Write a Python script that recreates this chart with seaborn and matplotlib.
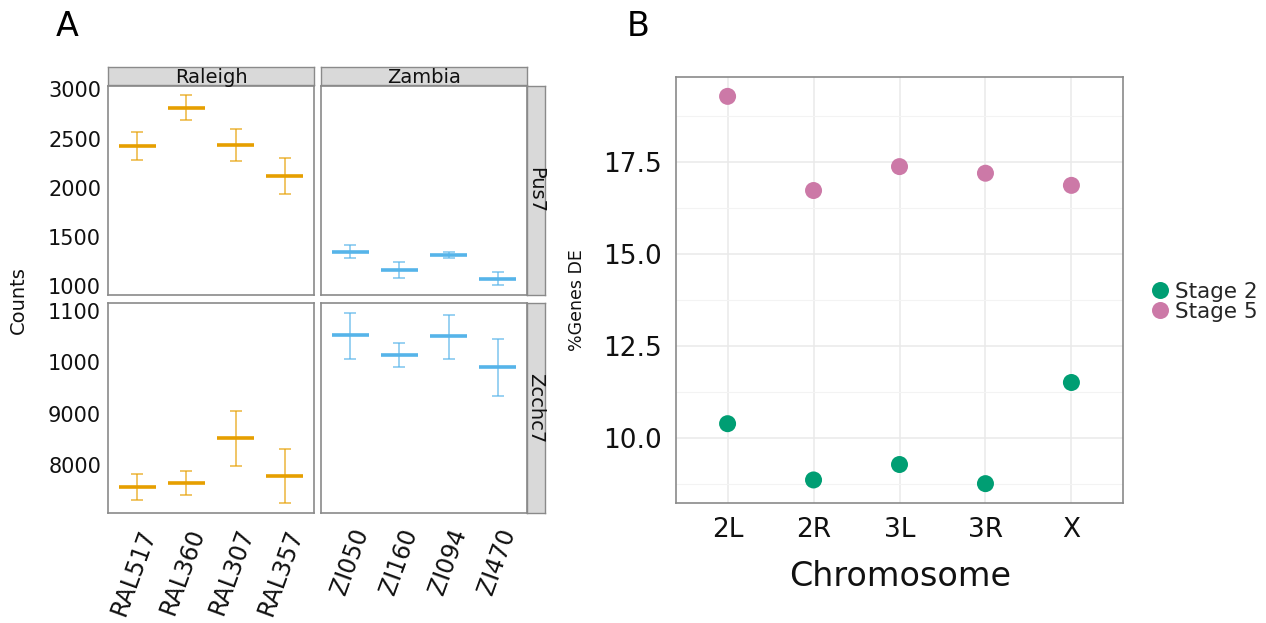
import numpy as np
import pandas as pd
import matplotlib
matplotlib.use("Agg")
import matplotlib.pyplot as plt
import seaborn as sns

# ---------------- data ----------------
raleigh_strains = ["RAL517", "RAL360", "RAL307", "RAL357"]
zambia_strains = ["ZI050", "ZI160", "ZI094", "ZI470"]

pus7_raleigh_mean = [2427, 2810, 2437, 2120]
pus7_raleigh_low = [2280, 2687, 2273, 1940]
pus7_raleigh_high = [2570, 2937, 2600, 2303]
pus7_zambia_mean = [1350, 1167, 1317, 1073]
pus7_zambia_low = [1287, 1087, 1290, 1007]
pus7_zambia_high = [1417, 1247, 1343, 1140]

zcchc7_raleigh_mean = [7580, 7658, 8528, 7787]
zcchc7_raleigh_low = [7323, 7433, 7994, 7265]
zcchc7_raleigh_high = [7832, 7884, 9058, 8323]
zcchc7_zambia_mean = [10530, 10135, 10503, 9903]
zcchc7_zambia_low = [10058, 9910, 10058, 9355]
zcchc7_zambia_high = [10961, 10368, 10909, 10451]

pus7_ticks = [1000, 1500, 2000, 2500, 3000]
pus7_ticklabels = ["1000", "1500", "2000", "2500", "3000"]
zcchc7_ticks = [8000, 9000, 10000, 11000]
zcchc7_ticklabels = ["8000", "9000", "1000", "1100"]

chromosomes = ["2L", "2R", "3L", "3R", "X"]
stage2_pct = [10.39, 8.86, 9.28, 8.76, 11.51]
stage5_pct = [19.29, 16.73, 17.38, 17.20, 16.87]
b_ticks = [10.0, 12.5, 15.0, 17.5]
b_ticklabels = ["10.0", "12.5", "15.0", "17.5"]

# ---------------- style ----------------
sns.set_style("white")
plt.rcParams["font.family"] = ["DejaVu Sans"]

W, H = 1266, 623
fig = plt.figure(figsize=(W / 100, H / 100), dpi=100)


def box(x0, y0, x1, y1):
    return [x0 / W, 1 - y1 / H, (x1 - x0) / W, (y1 - y0) / H]


ORANGE = "#E69F00"
BLUE = "#56B4E9"
FRAME = "#8a8a8a"
STRIP = "#D9D9D9"
TXT = "#111111"

facets = {
    (0, 0): (raleigh_strains, pus7_raleigh_mean, pus7_raleigh_low, pus7_raleigh_high, ORANGE),
    (0, 1): (zambia_strains, pus7_zambia_mean, pus7_zambia_low, pus7_zambia_high, BLUE),
    (1, 0): (raleigh_strains, zcchc7_raleigh_mean, zcchc7_raleigh_low, zcchc7_raleigh_high, ORANGE),
    (1, 1): (zambia_strains, zcchc7_zambia_mean, zcchc7_zambia_low, zcchc7_zambia_high, BLUE),
}
col_x = [(108, 314), (321, 527)]
row_y = [(86, 295), (303, 513)]
row_ticks = [(pus7_ticks, pus7_ticklabels), (zcchc7_ticks, zcchc7_ticklabels)]

row_lims = []
for r in range(2):
    lows = facets[(r, 0)][2] + facets[(r, 1)][2]
    highs = facets[(r, 0)][3] + facets[(r, 1)][3]
    lo, hi = min(lows), max(highs)
    pad = 0.05 * (hi - lo)
    row_lims.append((lo - pad, hi + pad))

for (r, c), (strains, mean, low, high, color) in facets.items():
    x0, x1 = col_x[c]
    y0, y1 = row_y[r]
    ax = fig.add_axes(box(x0, y0, x1, y1))
    mean = np.asarray(mean, float)
    low = np.asarray(low, float)
    high = np.asarray(high, float)
    xs = np.arange(len(strains))
    ax.errorbar(xs, mean, yerr=[mean - low, high - mean], fmt="none",
                ecolor=color, elinewidth=1.3, capsize=4, capthick=1.3, alpha=0.65)
    ax.hlines(mean, xs - 0.38, xs + 0.38, color=color, lw=2.6)
    ax.set_xlim(-0.6, len(strains) - 0.4)
    ax.set_ylim(*row_lims[r])
    for s in ax.spines.values():
        s.set_color(FRAME)
        s.set_linewidth(1.2)
    ax.set_facecolor("white")
    if r == 1:
        ax.set_xticks(xs)
        ax.set_xticklabels(strains, rotation=70, ha="right", va="top",
                           rotation_mode="anchor", fontsize=17, color=TXT)
        ax.tick_params(axis="x", length=4, color=FRAME, pad=5)
    else:
        ax.set_xticks([])
    if c == 0:
        t, tl = row_ticks[r]
        ax.set_yticks(t)
        ax.set_yticklabels(tl, fontsize=15, color=TXT)
        ax.tick_params(axis="y", length=3, color=FRAME, pad=2)
    else:
        ax.set_yticks([])
    ax.set_xlabel("")
    ax.set_ylabel("")

# strips
for c, name in enumerate(["Raleigh", "Zambia"]):
    x0, x1 = col_x[c]
    sax = fig.add_axes(box(x0, 67, x1, 85))
    sax.set_facecolor(STRIP)
    sax.set_xticks([]); sax.set_yticks([])
    for s in sax.spines.values():
        s.set_color(FRAME); s.set_linewidth(1.0)
    sax.text(0.5, 0.42, name, ha="center", va="center", fontsize=14,
             color=TXT, transform=sax.transAxes)
for r, name in enumerate(["Pus7", "Zcchc7"]):
    y0, y1 = row_y[r]
    sax = fig.add_axes(box(527, y0, 545, y1))
    sax.set_facecolor(STRIP)
    sax.set_xticks([]); sax.set_yticks([])
    for s in sax.spines.values():
        s.set_color(FRAME); s.set_linewidth(1.0)
    sax.text(0.5, 0.5, name, ha="center", va="center", fontsize=14,
             rotation=-90, color=TXT, transform=sax.transAxes)

fig.text(18 / W, 1 - 300 / H, "Counts", rotation=90, ha="center", va="center",
         fontsize=14, color=TXT)

# ---------------- panel B ----------------
df = pd.DataFrame({
    "Chromosome": chromosomes * 2,
    "pct": stage2_pct + stage5_pct,
    "Stage": ["Stage 2"] * len(chromosomes) + ["Stage 5"] * len(chromosomes),
})
axb = fig.add_axes(box(676, 77, 1123, 503))
sns.scatterplot(data=df, x="Chromosome", y="pct", hue="Stage",
                palette={"Stage 2": "#009E73", "Stage 5": "#CC79A7"},
                s=150, edgecolor="none", ax=axb, zorder=3)
allv = stage2_pct + stage5_pct
pad = 0.05 * (max(allv) - min(allv))
axb.set_ylim(min(allv) - pad, max(allv) + pad)
axb.set_xlim(-0.6, len(chromosomes) - 0.4)
axb.set_yticks(b_ticks)
axb.set_yticklabels(b_ticklabels, fontsize=19, color=TXT)
axb.set_xticks(range(len(chromosomes)))
axb.set_xticklabels(chromosomes, fontsize=19, color=TXT)
minor = [b - 1.25 for b in b_ticks] + [b_ticks[-1] + 1.25]
axb.set_yticks(minor, minor=True)
axb.tick_params(axis="y", which="minor", length=0)
axb.tick_params(axis="both", which="major", length=4, color=FRAME, pad=6)
axb.set_axisbelow(True)
axb.grid(True, which="major", color="#EAEAEA", lw=1.1)
axb.grid(True, which="minor", axis="y", color="#F3F3F3", lw=0.8)
for s in axb.spines.values():
    s.set_color(FRAME)
    s.set_linewidth(1.2)
axb.set_xlabel("")
axb.set_ylabel("")
handles, labels = axb.get_legend_handles_labels()
axb.legend_.remove()
fig.legend(handles, labels, loc="center left",
           bbox_to_anchor=(1138 / W, 1 - 302 / H), frameon=False, fontsize=15.5,
           handlelength=1.0, handletextpad=0.2, labelspacing=0.0, borderpad=0)

fig.text(577 / W, 1 - 300 / H, "%Genes DE", rotation=90, ha="center", va="center",
         fontsize=12.5, color=TXT)
fig.text(900 / W, 1 - 577 / H, "Chromosome", ha="center", va="center",
         fontsize=24, color=TXT)

fig.text(67 / W, 1 - 27 / H, "A", ha="center", va="center", fontsize=24, color="black")
fig.text(638 / W, 1 - 27 / H, "B", ha="center", va="center", fontsize=24, color="black")

fig.savefig("out.png", dpi=100, facecolor="white")
